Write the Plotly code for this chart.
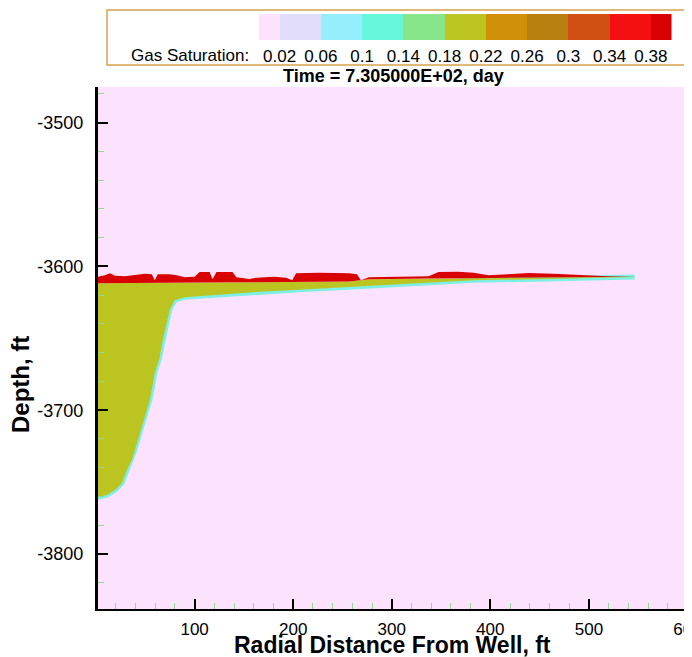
import plotly.graph_objects as go

# ---------------- data ----------------
# Upper edge of the high-saturation (>0.38) layer: radial distance (ft), depth (ft)
red_top_x = [0, 9.1, 14.1, 19.2, 29.3, 39.4, 49.5, 56.6, 59.6, 62.6, 74.7, 81.8, 89.9, 100,
             105.1, 115.2, 118.2, 122.2, 138.4, 142.4, 155.6, 162.6, 180.8, 192.9, 199.0, 203.0,
             226.3, 256.6, 264.6, 268.7, 276.8, 307.1, 337.4, 347.5, 367.7, 382.8, 398.0,
             418.2, 438.4, 463.6, 488.9, 519.2, 546.5]
red_top_y = [-3607.5, -3606.1, -3604.7, -3606.5, -3606.8, -3605.8, -3605.2, -3605.4, -3609.6,
             -3605.4, -3605.4, -3606.1, -3607.5, -3607.2, -3604.0, -3604.0, -3608.9, -3604.0,
             -3604.0, -3607.5, -3608.7, -3607.9, -3607.2, -3607.9, -3609.6, -3604.7, -3604.4,
             -3604.7, -3605.4, -3609.6, -3607.5, -3607.2, -3606.8, -3604.0, -3603.7, -3604.4,
             -3606.1, -3605.4, -3604.6, -3605.1, -3606.1, -3606.8, -3607.2]

# Boundary between the >0.38 layer and the 0.18-0.22 body
mid_x = [0, 105.1, 206.1, 256.6, 276.8, 337.4, 382.8, 458.6, 546.5]
mid_y = [-3611.7, -3611.3, -3611.0, -3610.6, -3608.9, -3608.5, -3608.2, -3608.0, -3607.2]

# Lower edge of the gas plume
bot_x = [0, 2.0, 11.1, 19.2, 26.3, 31.3, 36.4, 39.4, 44.4, 49.5, 54.5, 56.6, 59.6, 64.6, 67.7,
         71.7, 74.7, 79.8, 89.9, 100, 130.3, 165.7, 206.1, 256.6, 307.1, 382.8, 458.6, 546.5]
bot_y = [-3760.4, -3760.4, -3759.0, -3755.5, -3750.7, -3741.6, -3734.7, -3727.7, -3715.9,
         -3704.8, -3693.0, -3686.0, -3674.2, -3663.1, -3651.3, -3639.5, -3630.4, -3623.5,
         -3621.4, -3620.9, -3619.3, -3617.6, -3616.2, -3614.5, -3612.4, -3609.6, -3608.8,
         -3607.4]

# Axis ticks
x_ticks = [100, 200, 300, 400, 500, 600]
y_ticks = [-3500, -3600, -3700, -3800]

# Legend (contour levels of gas saturation)
level_edges = [0.0, 0.02, 0.06, 0.10, 0.14, 0.18, 0.22, 0.26, 0.30, 0.34, 0.38, 0.40]
level_labels = ["0.02", "0.06", "0.1", "0.14", "0.18", "0.22", "0.26", "0.3", "0.34", "0.38"]
level_colors = ["#fce2fc", "#e0dcfa", "#94eefc", "#66f6dc", "#88e68a", "#bcc422",
                "#d09008", "#b88010", "#d05014", "#f41010", "#d80000"]

BG = level_colors[0]
OLIVE = level_colors[5]
DARKRED = level_colors[10]
FONT = "Liberation Sans, Arial, sans-serif"

# page body has an 8px margin: figure occupies window pixels 8..692 x 8..657
OFF = 8
W, H = 692 - OFF, 657 - OFF
def px(x):
    return (x - OFF) / W
def py(y):
    return 1 - (y - OFF) / H

fig = go.Figure()

# cyan fringe along the plume edge
fig.add_trace(go.Scatter(x=bot_x, y=bot_y, mode="lines",
                         line=dict(color="#7cf0e4", width=5), hoverinfo="skip",
                         showlegend=False))
# 0.18-0.22 body
fig.add_trace(go.Scatter(x=mid_x + bot_x[::-1], y=mid_y + bot_y[::-1], mode="lines",
                         fill="toself", fillcolor=OLIVE, line=dict(width=0, color=OLIVE),
                         hoverinfo="skip", showlegend=False))
# >0.38 cap layer
fig.add_trace(go.Scatter(x=red_top_x + mid_x[::-1], y=red_top_y + mid_y[::-1], mode="lines",
                         fill="toself", fillcolor=DARKRED, line=dict(width=0, color=DARKRED),
                         hoverinfo="skip", showlegend=False))

# legend swatches
nlev = len(level_colors)
cscale = [[i / (nlev - 1), c] for i, c in enumerate(level_colors)]
fig.add_trace(go.Heatmap(x=level_edges, y=[0, 1], z=[list(range(nlev))],
                         colorscale=cscale, zmin=0, zmax=nlev - 1, showscale=False,
                         xaxis="x2", yaxis="y2", hoverinfo="skip"))

fig.update_layout(
    width=W, height=H,
    margin=dict(l=0, r=0, t=0, b=0, autoexpand=False),
    paper_bgcolor="white",
    plot_bgcolor=BG,
    font=dict(family=FONT, size=17, color="black"),
    showlegend=False,
    xaxis=dict(domain=[px(98), px(688)], range=[2, 600.5], anchor="y", automargin=False,
               showline=True, linecolor="black", linewidth=2, mirror=False,
               ticks="inside", ticklen=10, tickwidth=2, tickcolor="black",
               tickvals=x_ticks, ticktext=[str(v) for v in x_ticks],
               showgrid=False, zeroline=False, ticklabeloverflow="allow",
               minor=dict(dtick=20, tick0=0, ticks="inside", ticklen=6, tickwidth=1,
                          tickcolor="#8fdc8f", showgrid=False),
               tickfont=dict(size=17), ticklabelstandoff=4),
    yaxis=dict(domain=[py(609), py(87)], range=[-3838.2, -3475.3], anchor="x",
               automargin=False,
               showline=True, linecolor="black", linewidth=3, mirror=False,
               ticks="inside", ticklen=10, tickwidth=2, tickcolor="black",
               tickvals=y_ticks, ticktext=[str(v) for v in y_ticks],
               showgrid=False, zeroline=False,
               minor=dict(dtick=20, tick0=0, ticks="inside", ticklen=6, tickwidth=1,
                          tickcolor="#8fdc8f", showgrid=False),
               tickfont=dict(size=18), ticklabelstandoff=8),
    xaxis2=dict(domain=[px(259), px(671.5)], range=[level_edges[0], level_edges[-1]],
                anchor="y2", automargin=False,
                tickvals=level_edges[1:-1], ticktext=level_labels,
                ticks="", showline=False, showgrid=False, zeroline=False,
                tickfont=dict(size=17), ticklabelstandoff=4),
    yaxis2=dict(domain=[py(40), py(14)], range=[0, 1], anchor="x2", visible=False,
                automargin=False),
    shapes=[dict(type="rect", xref="paper", yref="paper",
                 x0=px(107), x1=px(687), y0=py(65), y1=py(10),
                 line=dict(color="#d6a24e", width=1.5), fillcolor="rgba(0,0,0,0)",
                 layer="below")],
    annotations=[
        dict(text="Gas Saturation:", xref="paper", yref="paper", x=px(251), y=py(55),
             xanchor="right", yanchor="middle", showarrow=False, font=dict(size=17)),
        dict(text="<b>Time = 7.305000E+02, day</b>", xref="paper", yref="paper",
             x=px(393), y=py(76), xanchor="center", yanchor="middle", showarrow=False,
             font=dict(size=18)),
        dict(text="<b>Depth, ft</b>", xref="paper", yref="paper", x=px(20), y=py(385),
             xanchor="center", yanchor="middle", textangle=-90, showarrow=False,
             font=dict(size=24)),
        dict(text="<b>Radial Distance From Well, ft</b>", xref="paper", yref="paper",
             x=px(392), y=py(645), xanchor="center", yanchor="middle", showarrow=False,
             font=dict(size=23)),
    ],
)

fig.write_html("out.html")
